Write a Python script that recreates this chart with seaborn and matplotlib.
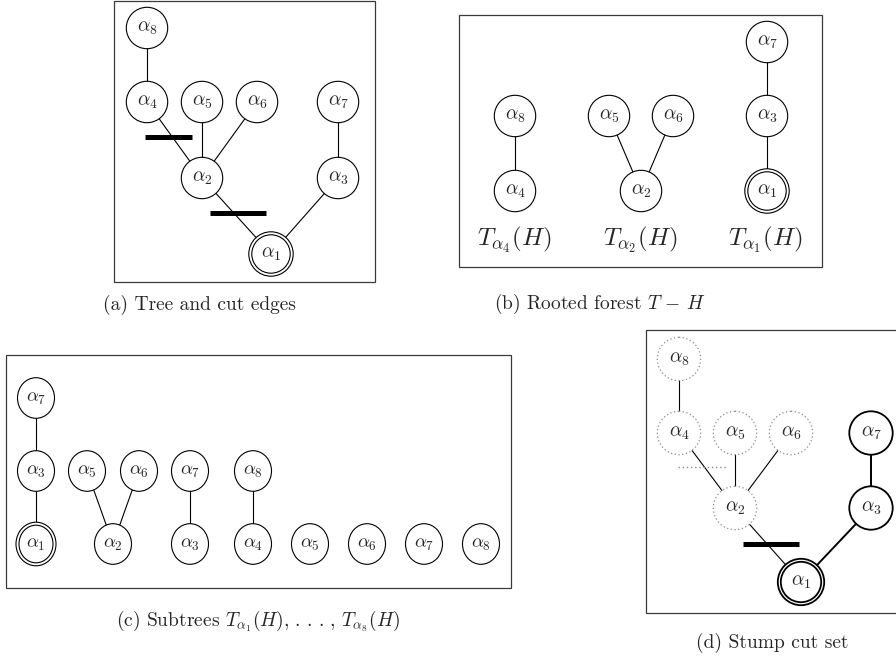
"""
Tree / cut-edge figure: (a) tree and cut edges, (b) rooted forest T - H,
(c) subtrees T_a1(H)..T_a8(H), (d) stump cut set.
Drawn on one full-figure axes in pixel units (y downwards).
"""

import pandas as pd
import matplotlib
matplotlib.use("Agg")
import matplotlib.pyplot as plt
from matplotlib.patches import Ellipse, Rectangle
import seaborn as sns

sns.set_theme(style="white")
plt.rcParams["mathtext.fontset"] = "cm"
plt.rcParams["font.family"] = ["DejaVu Serif", "DejaVu Sans"]

# ── data ──────────────────────────────────────────────────────────────────────
# (a) and (d): one node per alpha_1 .. alpha_8 (list index = alpha - 1)
TREE_EDGES = [(8, 4), (4, 2), (5, 2), (6, 2), (2, 1), (7, 3), (3, 1)]
A_X = [271, 202, 338, 147, 202, 257, 338, 147]
A_Y = [254, 178, 178, 102, 102, 102, 102, 28]
A_CUTS_X = [(145, 192), (210, 266)]
A_CUTS_Y = [137, 213]

D_X = [801, 735, 871, 679, 735, 791, 871, 679]
D_Y = [582, 508, 508, 433, 433, 433, 433, 359]
D_KEPT = [1, 3, 7]
D_KEPT_EDGES = [(7, 3), (3, 1)]
D_CUT_X, D_CUT_Y = (743, 799), 544
D_DOT_CUT_X, D_DOT_CUT_Y = (678, 726), 467

# (b) rooted forest
B_LABELS = [8, 4, 5, 6, 2, 7, 3, 1]
B_X = [515, 515, 609, 673, 641, 767, 767, 767]
B_Y = [116, 191, 116, 116, 191, 42, 116, 191]
B_EDGES = [(0, 1), (2, 4), (3, 4), (5, 6), (6, 7)]
B_TREE_NAMES = [r"$T_{\alpha_4}(H)$", r"$T_{\alpha_2}(H)$", r"$T_{\alpha_1}(H)$"]
B_TREE_X = [514, 640, 765]

# (c) subtrees
C_LABELS = [7, 3, 1, 5, 6, 2, 7, 3, 8, 4, 5, 6, 7, 8]
C_X = [36, 36, 36, 87, 139, 113, 190, 190, 253, 253, 310, 367, 424, 481]
C_Y = [398, 471, 544, 471, 471, 544, 471, 544, 471, 544, 544, 544, 544, 544]
C_EDGES = [(0, 1), (1, 2), (3, 5), (4, 5), (6, 7), (8, 9)]

CAPTIONS = ["(a) Tree and cut edges",
            r"(b) Rooted forest $T\,-\,H$",
            r"(c) Subtrees $T_{\alpha_1}(H),\,.\,.\,.\,,\,T_{\alpha_8}(H)$",
            "(d) Stump cut set"]
CAPTION_X = [199, 600, 258, 772]
CAPTION_Y = [310, 309, 626, 648]

# ── helpers ───────────────────────────────────────────────────────────────────
fig = plt.figure(figsize=(8.96, 6.62), dpi=100)
ax = fig.add_axes([0, 0, 1, 1])


def draw_edges(xs, ys, edges, lw=0.8, color="black", ls="-"):
    rows = []
    for k, (i, j) in enumerate(edges):
        rows += [(k, xs[i], ys[i]), (k, xs[j], ys[j])]
    df = pd.DataFrame(rows, columns=["edge", "x", "y"])
    sns.lineplot(data=df, x="x", y="y", units="edge", estimator=None, sort=False,
                 color=color, lw=lw, ls=ls, ax=ax, zorder=1, legend=False)


def draw_node(x, y, label, rx, ry, lw=0.8, ec="black", ls="-", double=False,
              fs=14):
    if double:
        for d in (1.5, -1.5):
            ax.add_patch(Ellipse((x, y), 2 * (rx + d), 2 * (ry + d), fc="white",
                                 ec=ec, lw=lw, ls=ls, zorder=2))
    else:
        ax.add_patch(Ellipse((x, y), 2 * rx, 2 * ry, fc="white", ec=ec, lw=lw,
                             ls=ls, zorder=2))
    ax.text(x, y, rf"$\alpha_{label}$", ha="center", va="center", fontsize=fs,
            zorder=3)


def draw_cut(xr, y, lw=3.6, color="black", ls="-"):
    ax.plot(xr, [y, y], color=color, lw=lw, ls=ls, solid_capstyle="butt", zorder=4)


def draw_box(x0, y0, x1, y1):
    ax.add_patch(Rectangle((x0, y0), x1 - x0, y1 - y0, fill=False, ec="#3a3a3a",
                           lw=0.9, zorder=0))


def pairs(edges):
    return [(i - 1, j - 1) for i, j in edges]


# ── (a) tree and cut edges ────────────────────────────────────────────────────
draw_box(114, 1, 375, 282)
draw_edges(A_X, A_Y, pairs(TREE_EDGES))
for k in range(8):
    draw_node(A_X[k], A_Y[k], k + 1, 20.7, 20.7, double=(k == 0))
for xr, y in zip(A_CUTS_X, A_CUTS_Y):
    draw_cut(xr, y)

# ── (b) rooted forest ─────────────────────────────────────────────────────────
draw_box(459, 15, 822, 267)
draw_edges(B_X, B_Y, B_EDGES)
for lab, x, y in zip(B_LABELS, B_X, B_Y):
    draw_node(x, y, lab, 20.7, 20.7, double=(lab == 1))
for name, x in zip(B_TREE_NAMES, B_TREE_X):
    ax.text(x, 246, name, ha="center", va="baseline", fontsize=18)

# ── (c) subtrees ──────────────────────────────────────────────────────────────
draw_box(6, 355, 511, 588)
draw_edges(C_X, C_Y, C_EDGES)
for k, (lab, x, y) in enumerate(zip(C_LABELS, C_X, C_Y)):
    draw_node(x, y, lab, 18.5, 20.3, double=(k == 2), fs=13.5)

# ── (d) stump cut set ─────────────────────────────────────────────────────────
draw_box(646, 330, 899, 613)
thin = [e for e in TREE_EDGES if e not in D_KEPT_EDGES]
draw_edges(D_X, D_Y, pairs(thin), lw=0.8)
draw_edges(D_X, D_Y, pairs(D_KEPT_EDGES), lw=1.4)
for k in range(8):
    if k + 1 in D_KEPT:
        draw_node(D_X[k], D_Y[k], k + 1, 21.7, 21.7, lw=1.3, double=(k == 0))
    else:
        draw_node(D_X[k], D_Y[k], k + 1, 21.7, 21.7, lw=0.9, ec="#8a8a8a",
                  ls=(0, (1, 2)))
draw_cut(D_DOT_CUT_X, D_DOT_CUT_Y, lw=1.0, color="#8a8a8a", ls=(0, (1, 2)))
draw_cut(D_CUT_X, D_CUT_Y)

# ── captions ──────────────────────────────────────────────────────────────────
for cap, x, y in zip(CAPTIONS, CAPTION_X, CAPTION_Y):
    ax.text(x, y, cap, ha="center", va="baseline", fontsize=14, family="cmr10")

ax.set_xlim(0, 896)
ax.set_ylim(662, 0)
ax.axis("off")
fig.savefig("out.png", dpi=100, facecolor="white")
